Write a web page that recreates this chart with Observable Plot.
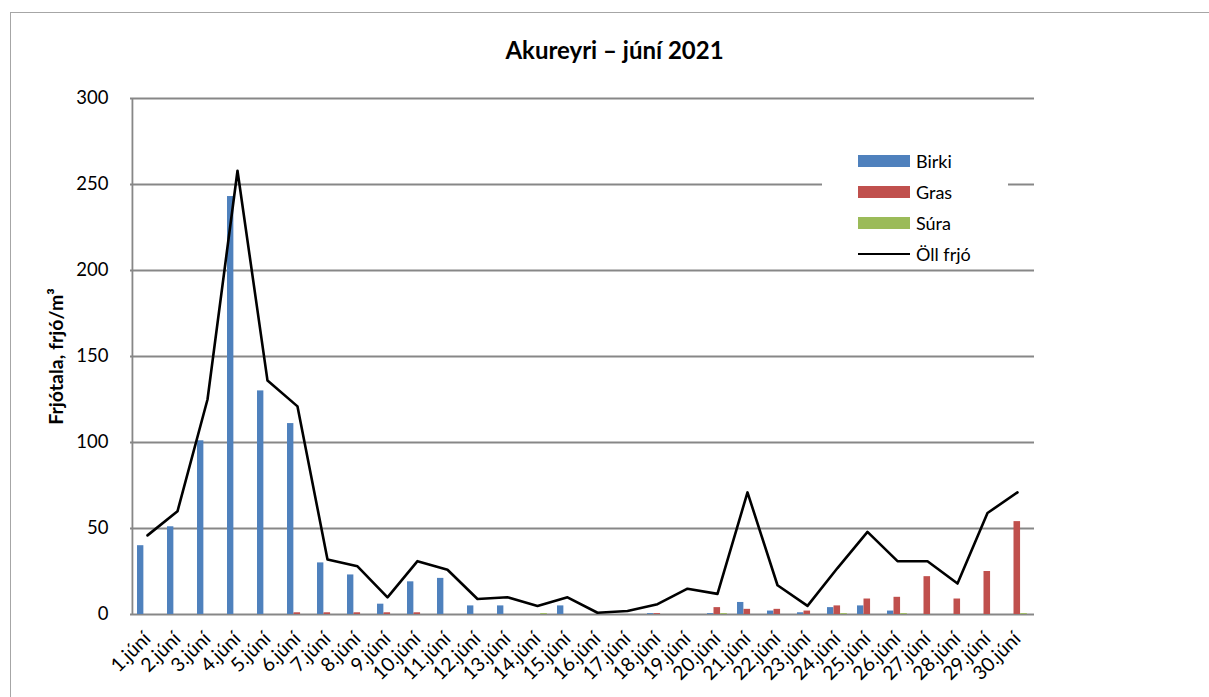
<!DOCTYPE html>
<html><head><meta charset="utf-8">
<script src="https://cdn.jsdelivr.net/npm/d3@7"></script>
<script src="https://cdn.jsdelivr.net/npm/@observablehq/plot@0.6"></script>
<style>
body{margin:0;background:#fff;overflow:hidden;font-family:Lato,sans-serif}
#wrap{position:relative;width:1209px;height:697px;overflow:hidden}
#wrap svg{position:absolute;left:0;top:0}
#border{position:absolute;left:10px;top:12px;width:1300px;height:800px;border:1px solid #a6a6a6;pointer-events:none}
#title{position:absolute;left:0;top:35px;width:1229px;text-align:center;font-weight:bold;font-size:24px;color:#000}
#legend{position:absolute;left:822px;top:143px;width:186px;height:124px;background:#fff}
.item{position:absolute;left:36px;height:20px;display:flex;align-items:center;font-size:18px;color:#000}
.sw{width:52px;height:12px;margin-right:6px}
.ln{width:52px;height:2.5px;background:#000;margin-right:6px}
</style></head><body>
<div id="wrap"><div id="border"></div><div id="title">Akureyri – júní 2021</div></div>
<script>
const days = ["1.júní","2.júní","3.júní","4.júní","5.júní","6.júní","7.júní","8.júní","9.júní","10.júní","11.júní","12.júní","13.júní","14.júní","15.júní","16.júní","17.júní","18.júní","19.júní","20.júní","21.júní","22.júní","23.júní","24.júní","25.júní","26.júní","27.júní","28.júní","29.júní","30.júní"];
const birki = [40,51,101,243,130,111,30,23,6,19,21,5,5,0,5,0,0,0.5,0,0.5,7,2,1,4,5,2,0,0,0,0];
const gras  = [0,0,0,0,0,1,1,1,1,1,0,0,0,0,0,0,0,0.5,0,4,3,3,2,5,9,10,22,9,25,54];
const sura  = [0,0,0,0,0,0,0,0,0,0,0,0,0,0.5,0,0,0,0,0,0.5,0,0,0,0.5,0,0.5,0,0,0,0.5];
const oll   = [46,60,125,258,136,121,32,28,10,31,26,9,10,5,10,1,2,6,15,12,71,17,5,27,48,31,31,18,59,71];
const yTicks = [0,50,100,150,200,250,300];
const seriesNames = ["Birki","Gras","Súra","Öll frjó"];
const seriesColors = ["#4f81bd","#c0504d","#9bbb59","#000000"];
const yLabel = "Frjótala, frjó/m³";

const rows = days.map((d,i)=>({day:d, birki:birki[i], gras:gras[i], sura:sura[i], oll:oll[i]}));
const bw = (1209-130-175)/days.length;
const grid = "#878787";

const chart = Plot.plot({
  width:1209, height:697,
  marginLeft:130, marginRight:175, marginTop:98, marginBottom:83,
  style:{fontFamily:"Lato, sans-serif", background:"transparent", color:"#000"},
  x:{domain:days, padding:0, label:null},
  y:{domain:[0,300], label:null},
  marks:[
    Plot.ruleY(yTicks, {stroke:grid, strokeWidth:1.8}),
    Plot.ruleX([days[0]], {stroke:grid, strokeWidth:1.8, dx:-bw/2}),
    Plot.barY(rows, {x:"day", y:"birki", fill:seriesColors[0], insetLeft:5, insetRight:bw-11.5}),
    Plot.barY(rows, {x:"day", y:"gras", fill:seriesColors[1], insetLeft:11.5, insetRight:bw-18.2}),
    Plot.barY(rows, {x:"day", y:"sura", fill:seriesColors[2], insetLeft:18.2, insetRight:bw-25}),
    Plot.line(rows, {x:"day", y:"oll", stroke:seriesColors[3], strokeWidth:2.6}),
    Plot.axisY({ticks:yTicks, tickSize:0, tickPadding:22, fontSize:18.5, label:null}),
    Plot.axisX({tickRotate:-45, tickSize:0, tickPadding:21, fontSize:19.5, label:null}),
    Plot.text([yLabel], {frameAnchor:"left", textAnchor:"middle", rotate:-90, dx:-74, fontWeight:"bold", fontSize:19.5})
  ]
});
const wrap = document.getElementById("wrap");
wrap.insertBefore(chart, wrap.firstChild);

const legend = document.createElement("div");
legend.id = "legend";
const tops = [8, 39, 70, 101];
seriesNames.forEach((n,i)=>{
  const it = document.createElement("div");
  it.className = "item";
  it.style.top = tops[i] + "px";
  const s = document.createElement("div");
  s.className = i < 3 ? "sw" : "ln";
  if (i < 3) s.style.background = seriesColors[i];
  it.appendChild(s);
  const t = document.createElement("span");
  t.textContent = n;
  it.appendChild(t);
  legend.appendChild(it);
});
wrap.appendChild(legend);
</script>
</body></html>
